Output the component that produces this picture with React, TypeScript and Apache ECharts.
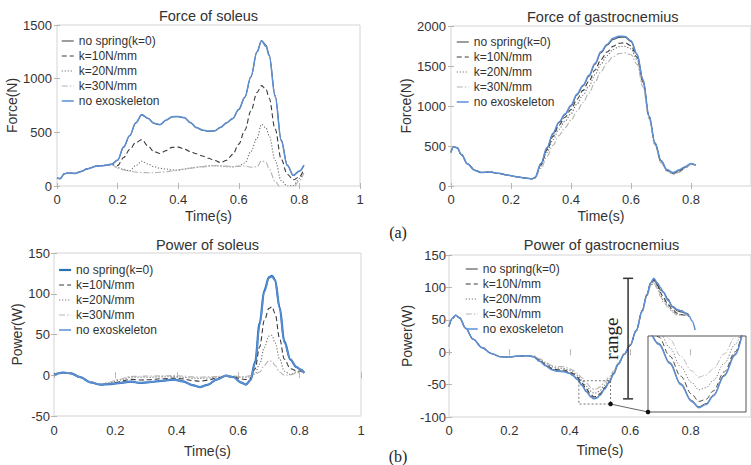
import React, { useEffect, useRef } from "react";
import * as echarts from "echarts";

// ---------- series names ----------
const NAMES = ["no spring(k=0)", "k=10N/mm", "k=20N/mm", "k=30N/mm", "no exoskeleton"];

// ---------- Force of soleus ----------
const tForceSol = [0, 0.01, 0.025, 0.04, 0.06, 0.08, 0.1, 0.13, 0.16, 0.18, 0.2, 0.22, 0.24, 0.26, 0.28, 0.3, 0.32, 0.34, 0.36, 0.38, 0.4, 0.42, 0.44, 0.46, 0.48, 0.5, 0.52, 0.54, 0.56, 0.58, 0.6, 0.62, 0.64, 0.66, 0.675, 0.69, 0.7, 0.72, 0.74, 0.76, 0.78, 0.8, 0.815];
const forceSolK0 = [74, 70, 117, 121, 118, 136, 161, 184, 193, 200, 242, 362, 468, 588, 662, 630, 583, 570, 612, 643, 646, 636, 590, 543, 520, 510, 514, 546, 588, 628, 712, 826, 1015, 1248, 1356, 1312, 1225, 845, 430, 195, 98, 138, 193];
const forceSolK10 = [72, 68, 115, 122, 117, 135, 160, 185, 192, 200, 190, 265, 340, 405, 432, 375, 320, 303, 330, 360, 362, 345, 320, 300, 280, 258, 238, 218, 240, 295, 390, 520, 700, 870, 935, 900, 820, 530, 250, 110, 58, 85, 160];
const forceSolK20 = [72, 68, 115, 122, 117, 135, 160, 185, 192, 200, 172, 155, 140, 190, 230, 205, 180, 165, 158, 150, 148, 158, 168, 175, 182, 188, 190, 186, 180, 178, 185, 215, 320, 445, 575, 540, 470, 240, 50, 0, 5, 70, 135];
const forceSolK30 = [72, 68, 115, 122, 117, 135, 160, 185, 192, 200, 165, 150, 140, 130, 125, 124, 124, 128, 133, 140, 150, 158, 165, 172, 178, 183, 188, 188, 185, 182, 183, 188, 175, 180, 235, 220, 160, 40, -20, -40, -10, 50, 120];
const forceSolNoExo = [72, 68, 115, 122, 117, 135, 160, 185, 192, 205, 240, 366, 470, 590, 665, 632, 585, 572, 615, 645, 648, 638, 592, 545, 522, 512, 515, 548, 590, 630, 715, 830, 1020, 1250, 1350, 1300, 1215, 830, 420, 190, 100, 140, 195];

// ---------- Force of gastrocnemius ----------
const tForceGas = [0, 0.008, 0.02, 0.035, 0.055, 0.08, 0.1, 0.13, 0.16, 0.19, 0.22, 0.25, 0.27, 0.28, 0.3, 0.32, 0.34, 0.36, 0.38, 0.4, 0.42, 0.44, 0.46, 0.48, 0.5, 0.52, 0.54, 0.56, 0.58, 0.6, 0.62, 0.64, 0.66, 0.68, 0.7, 0.72, 0.74, 0.76, 0.78, 0.8, 0.815];
const forceGasK0 = [425, 488, 478, 392, 278, 197, 170, 173, 157, 134, 114, 97, 89, 105, 275, 470, 650, 792, 890, 1000, 1138, 1250, 1372, 1522, 1665, 1760, 1832, 1858, 1860, 1808, 1645, 1325, 875, 535, 315, 200, 160, 190, 235, 278, 262];
const forceGasK10 = [420, 490, 480, 390, 275, 195, 168, 175, 158, 135, 115, 98, 90, 105, 265, 450, 620, 760, 860, 955, 1085, 1195, 1310, 1450, 1580, 1675, 1745, 1785, 1790, 1755, 1610, 1300, 870, 530, 310, 195, 155, 180, 230, 275, 262];
const forceGasK20 = [420, 490, 480, 390, 275, 195, 168, 175, 158, 135, 115, 98, 90, 100, 250, 420, 580, 710, 810, 905, 1025, 1135, 1250, 1390, 1525, 1630, 1705, 1742, 1745, 1715, 1580, 1280, 860, 520, 300, 190, 150, 175, 225, 272, 262];
const forceGasK30 = [420, 490, 480, 390, 275, 195, 168, 175, 158, 135, 115, 98, 90, 95, 220, 370, 510, 630, 730, 820, 935, 1045, 1160, 1300, 1430, 1540, 1615, 1655, 1665, 1640, 1520, 1240, 840, 505, 290, 185, 150, 170, 220, 270, 262];
const forceGasNoExo = [420, 490, 480, 390, 275, 195, 168, 175, 158, 135, 115, 98, 90, 110, 283, 480, 660, 800, 900, 1010, 1150, 1260, 1385, 1535, 1680, 1770, 1846, 1872, 1870, 1815, 1650, 1330, 880, 540, 320, 205, 168, 200, 240, 280, 262];

// ---------- Power of soleus ----------
const tPowSol = [0, 0.03, 0.055, 0.085, 0.12, 0.15, 0.18, 0.21, 0.25, 0.28, 0.31, 0.35, 0.39, 0.42, 0.45, 0.475, 0.5, 0.53, 0.56, 0.585, 0.61, 0.625, 0.64, 0.655, 0.67, 0.685, 0.7, 0.71, 0.72, 0.735, 0.75, 0.77, 0.79, 0.805, 0.815];
const powSolK0 = [0.8, 3.3, 2.3, -2.4, -8.8, -11.4, -10.8, -9.6, -7.8, -9.3, -8.6, -6.8, -5.3, -7.4, -12, -14.6, -11.8, -5.3, -0.5, -2.4, -9, -11.4, -6, 16, 64, 104, 120, 122, 117, 83, 42, 19, 10, 6.5, 2.8];
const powSolK10 = [0.8, 3.3, 2.3, -2.4, -8.8, -11.4, -10.6, -8.2, -5, -5.8, -5.5, -4.3, -3.5, -4.5, -6.5, -7.3, -6, -3.5, -1.5, -2, -4.5, -5.3, -3.5, 8, 35, 67, 82, 84, 76, 45, 20, 8, 5.5, 5, 2.8];
const powSolK20 = [0.8, 3.3, 2.3, -2.4, -8.8, -11.2, -9.5, -6, -2.5, -2.5, -2.5, -2, -1.6, -2.5, -3.5, -3.8, -3.3, -2.3, -1.2, -1.3, -2.3, -2.5, -1.8, 2, 14, 34, 48, 49, 40, 20, 5, 1, 4, 5, 2.8];
const powSolK30 = [0.8, 3.3, 2.3, -2.4, -8.8, -11, -8.5, -5, -1.5, -1.2, -1, -0.8, -0.4, -1, -2, -2.4, -2, -1.5, -0.8, -1, -1.5, -1.5, -0.5, 1, 4, 12, 18, 17, 12, 4, 0, 0.5, 2.5, 4, 2.8];
const powSolNoExo = [0.8, 3.3, 2.3, -2.4, -8.8, -11.4, -10.8, -9.6, -7.8, -9.3, -8.6, -6.8, -5.3, -7.4, -12, -14.6, -11.8, -5.3, -0.5, -2.4, -9, -11.4, -6, 15, 62, 102, 119, 121, 116, 82, 40, 20, 10, 6.5, 2.8];

// ---------- Power of gastrocnemius ----------
const tPowGas = [0, 0.011, 0.022, 0.035, 0.055, 0.08, 0.11, 0.14, 0.17, 0.2, 0.23, 0.26, 0.28, 0.3, 0.32, 0.34, 0.36, 0.38, 0.4, 0.41, 0.425, 0.44, 0.455, 0.47, 0.48, 0.49, 0.5, 0.515, 0.53, 0.545, 0.56, 0.58, 0.6, 0.62, 0.64, 0.655, 0.668, 0.678, 0.69, 0.7, 0.71, 0.725, 0.74, 0.755, 0.77, 0.785, 0.795, 0.805, 0.815];
const powGasK0 = [40, 52, 57, 53, 37, 20, 7, -2, -7, -7.5, -6, -5.5, -7, -13.5, -20.5, -26.5, -29, -29.5, -32.5, -35.5, -41.5, -50.5, -60.5, -68.5, -71.5, -70, -66, -56.5, -46.5, -33.5, -19, -3.5, 10.5, 33, 65, 89, 107, 113, 105, 96, 93, 82, 70, 64, 62, 60, 58, null, null];
const powGasK10 = [40, 52, 57, 53, 37, 20, 7, -2, -7, -7.5, -6, -5.5, -6.5, -12.5, -19, -25, -27, -27.5, -30.5, -33, -38.5, -47.5, -57, -65.5, -69, -68, -64, -55, -45.5, -33, -18.5, -3, 10.5, 33, 64, 88, 106, 111, 103, 92, 84, 74, 66, 60, 58, 57, 55, null, null];
const powGasK20 = [40, 52, 57, 53, 37, 20, 7, -2, -7, -7.5, -6, -5.5, -6, -11, -17, -22.5, -24.5, -25, -28, -30.5, -35.5, -43.5, -52.5, -60, -63.5, -62.5, -59, -51, -42, -31, -17.5, -2.5, 11, 33, 63, 87, 104, 109, 100, 88, 80, 72, 64, 59, 58, 58, 55, null, null];
const powGasK30 = [40, 52, 57, 53, 37, 20, 7, -2, -7, -7.5, -6, -5.5, -5.5, -10, -15.5, -20.5, -22, -22.5, -25.5, -28, -32.5, -39.5, -47.5, -54.5, -57.5, -56.5, -53.5, -46.5, -38.5, -29, -16.5, -2, 11.5, 33, 62, 86, 102, 107, 98, 86, 77, 70, 62, 57, 57, 58, 54, null, null];
const powGasNoExo = [40, 52, 57, 53, 37, 20, 7, -2, -7, -7.5, -6, -5.5, -7, -14, -21, -27, -29.5, -30, -33, -36, -42, -51, -61, -69, -72, -70.5, -66.5, -57, -47, -34, -19, -3.5, 11, 34, 64, 88, 107, 114, 107, 100, 92, 80, 71, 66, 64, 60, 56, 48, 34];

// magnified window of the gastrocnemius power trough, and where the range bar stands
const zoomWindowT = [0.43, 0.535];
const zoomWindowP = [-80, -44];
const insetT = [0.41, 0.545];
const insetP = [-74, -38];
const rangeBarT = 0.593;

// ---------- layout ----------
const FONT = "'Liberation Sans', Arial, Helvetica, sans-serif";
const SERIF = "'Liberation Serif', 'Times New Roman', serif";
const TEXT = "#333";
const BOX = "#d4d4d4";

const GRIDS = [
  { left: 57, top: 25, width: 303, height: 161 },
  { left: 451, top: 26, width: 303.5, height: 160 },
  { left: 54, top: 253, width: 307, height: 163 },
  { left: 449, top: 255, width: 305, height: 162 },
];
const INSET = { left: 648, top: 336, width: 98, height: 76 };

const PANELS = [
  { title: "Force of soleus", yName: "Force(N)", yMin: 0, yMax: 1500, t: tForceSol, v: [forceSolK0, forceSolK10, forceSolK20, forceSolK30, forceSolNoExo], xMargin: 7, xNameGap: 23, yMargin: 5, yNameGap: 30, showMax: true, titleY: 16, legend: { left: 61, top: 35 } },
  { title: "Force of gastrocnemius", yName: "Force(N)", yMin: 0, yMax: 2000, t: tForceGas, v: [forceGasK0, forceGasK10, forceGasK20, forceGasK30, forceGasNoExo], xMargin: 7, xNameGap: 23, yMargin: 5, yNameGap: 32, showMax: false, titleY: 17, legend: { left: 456, top: 36 } },
  { title: "Power of soleus", yName: "Power(W)", yMin: -50, yMax: 150, t: tPowSol, v: [powSolK0, powSolK10, powSolK20, powSolK30, powSolNoExo], xMargin: 8, xNameGap: 28, yMargin: 4, yNameGap: 22, showMax: true, titleY: 245, legend: { left: 58, top: 264 } },
  { title: "Power of gastrocnemius", yName: "Power(W)", yMin: -100, yMax: 150, t: tPowGas, v: [powGasK0, powGasK10, powGasK20, powGasK30, powGasNoExo], xMargin: 7, xNameGap: 26, yMargin: 3, yNameGap: 35, showMax: false, titleY: 245, legend: { left: 465, top: 263 } },
];

const LINE_STYLES: any[] = [
  { color: "#4d4d4d", width: 1.1, type: "solid" },
  { color: "#3a3a3a", width: 1.1, type: [5, 3] },
  { color: "#707070", width: 1.1, type: [1.2, 1.8] },
  { color: "#b3b3b3", width: 1.1, type: [6, 2, 1.5, 2] },
  { color: "#5b8fd6", width: 1.5, type: "solid" },
];
// in the soleus power panel the k=0 curve is drawn as a heavier dark-blue line
const SOLEUS_POWER_K0 = { color: "#2a6fb6", width: 2.2, type: "solid" };

const styleFor = (panel: number, k: number) => (panel === 2 && k === 0 ? SOLEUS_POWER_K0 : LINE_STYLES[k]);
const pairs = (t: number[], v: (number | null)[]) => t.map((x, i) => [x, v[i]]);
const plain = (v: number) => String(v);

function buildOption() {
  const xAxis: any[] = [];
  const yAxis: any[] = [];
  const series: any[] = [];
  const title: any[] = [];
  const legend: any[] = [];

  PANELS.forEach((p, i) => {
    xAxis.push({
      type: "value", gridIndex: i, min: 0, max: 1, interval: 0.2, position: "bottom",
      axisLine: { show: false },
      axisTick: { inside: true, length: 3, lineStyle: { color: "#b5b5b5" } },
      splitLine: { show: false },
      axisLabel: { margin: p.xMargin, fontSize: 13, color: TEXT, fontFamily: FONT, showMaxLabel: p.showMax, formatter: plain },
      name: "Time(s)", nameLocation: "middle", nameGap: p.xNameGap,
      nameTextStyle: { fontSize: 14, color: TEXT, fontFamily: FONT },
    });
    yAxis.push({
      type: "value", gridIndex: i, min: p.yMin, max: p.yMax, interval: p.yMin === 0 ? 500 : 50, position: "left",
      axisLine: { show: false },
      axisTick: { inside: true, length: 3, lineStyle: { color: "#b5b5b5" } },
      splitLine: { show: false },
      axisLabel: { margin: p.yMargin, fontSize: 13, color: TEXT, fontFamily: FONT, formatter: plain },
      name: p.yName, nameLocation: "middle", nameGap: p.yNameGap,
      nameTextStyle: { fontSize: 14, color: TEXT, fontFamily: FONT },
    });
    title.push({
      text: p.title, left: GRIDS[i].left + GRIDS[i].width / 2, top: p.titleY - 8, textAlign: "center", padding: 0,
      textStyle: { fontSize: 14.5, fontWeight: "normal", color: TEXT, fontFamily: FONT },
    });
    legend.push({
      orient: "vertical", left: p.legend.left, top: p.legend.top, padding: 0, itemGap: 3,
      itemWidth: 12, itemHeight: 8, selectedMode: false,
      textStyle: { fontSize: 12, color: TEXT, fontFamily: FONT },
      data: NAMES.map((n, k) => ({ name: n, lineStyle: styleFor(i, k), itemStyle: { opacity: 0 } })),
    });
    NAMES.forEach((n, k) => {
      series.push({
        name: n, type: "line", xAxisIndex: i, yAxisIndex: i,
        data: pairs(p.t, p.v[k]), showSymbol: false, symbol: "none",
        smooth: 0.35, smoothMonotone: "x", clip: true,
        lineStyle: styleFor(i, k), z: 2 + k,
      });
    });
  });

  // mirrored ticks on the top and right edges of each box
  PANELS.forEach((p, i) => {
    xAxis.push({
      type: "value", gridIndex: i, min: 0, max: 1, interval: 0.2, position: "top",
      axisLine: { show: false }, axisLabel: { show: false }, splitLine: { show: false },
      axisTick: { inside: true, length: 3, lineStyle: { color: "#b5b5b5" } },
    });
    yAxis.push({
      type: "value", gridIndex: i, min: p.yMin, max: p.yMax, interval: p.yMin === 0 ? 500 : 50, position: "right",
      axisLine: { show: false }, axisLabel: { show: false }, splitLine: { show: false },
      axisTick: { inside: true, length: 3, lineStyle: { color: "#b5b5b5" } },
    });
  });

  // magnified trough of the gastrocnemius power
  xAxis.push({ type: "value", gridIndex: 4, min: insetT[0], max: insetT[1], show: false });
  yAxis.push({ type: "value", gridIndex: 4, min: insetP[0], max: insetP[1], show: false });
  NAMES.forEach((n, k) => {
    series.push({
      name: n, type: "line", xAxisIndex: 8, yAxisIndex: 8,
      data: pairs(tPowGas, PANELS[3].v[k]), showSymbol: false, symbol: "none",
      smooth: 0.35, smoothMonotone: "x", clip: true,
      lineStyle: { ...LINE_STYLES[k], width: k === 4 ? 1.4 : 0.9 }, z: 12 + k,
    });
  });

  // window box, connector, and the peak-to-trough range bar
  const lo = Math.min(...(powGasNoExo as number[]));
  const hi = Math.max(...(powGasNoExo as number[]));
  series.push({
    type: "custom", xAxisIndex: 3, yAxisIndex: 3, z: 20, silent: true,
    data: [[rangeBarT, lo, hi]],
    renderItem: (params: any, api: any) => {
      const t = api.value(0);
      const top = api.coord([t, api.value(2)]);
      const bot = api.coord([t, api.value(1)]);
      const w1 = api.coord([zoomWindowT[0], zoomWindowP[1]]);
      const w2 = api.coord([zoomWindowT[1], zoomWindowP[0]]);
      const corner = [INSET.left, INSET.top + INSET.height];
      const bar = { stroke: "#333", lineWidth: 1.5 };
      return {
        type: "group",
        children: [
          { type: "rect", shape: { x: w1[0], y: w1[1], width: w2[0] - w1[0], height: w2[1] - w1[1] }, style: { fill: "none", stroke: "#555", lineWidth: 0.8, lineDash: [2, 2] } },
          { type: "line", shape: { x1: w2[0], y1: w2[1], x2: corner[0], y2: corner[1] }, style: { stroke: "#555", lineWidth: 0.9 } },
          { type: "circle", shape: { cx: w2[0], cy: w2[1], r: 2.3 }, style: { fill: "#111" } },
          { type: "circle", shape: { cx: corner[0], cy: corner[1], r: 2.3 }, style: { fill: "#111" } },
          { type: "line", shape: { x1: top[0], y1: top[1], x2: bot[0], y2: bot[1] }, style: bar },
          { type: "line", shape: { x1: top[0] - 5, y1: top[1], x2: top[0] + 5, y2: top[1] }, style: bar },
          { type: "line", shape: { x1: bot[0] - 5, y1: bot[1], x2: bot[0] + 5, y2: bot[1] }, style: bar },
          {
            type: "text", x: top[0] - 17, y: (top[1] + bot[1]) / 2, rotation: Math.PI / 2,
            style: { text: "range", font: `19px ${SERIF}`, fill: "#222", align: "center", verticalAlign: "middle" },
          },
        ],
      };
    },
  });

  const grid: any[] = GRIDS.map((g) => ({ ...g, show: true, borderColor: BOX, borderWidth: 1, backgroundColor: "transparent" }));
  grid.push({ ...INSET, show: true, borderColor: "#555", borderWidth: 1, backgroundColor: "#fff" });

  return {
    animation: false,
    backgroundColor: "#fff",
    textStyle: { fontFamily: FONT },
    title,
    legend,
    grid,
    xAxis,
    yAxis,
    series,
    graphic: [
      { type: "text", x: 398, y: 232, style: { text: "(a)", font: `16px ${SERIF}`, fill: "#222", align: "center", verticalAlign: "middle" } },
      { type: "text", x: 398, y: 456, style: { text: "(b)", font: `16px ${SERIF}`, fill: "#222", align: "center", verticalAlign: "middle" } },
    ],
  };
}

export default function App() {
  const ref = useRef<HTMLDivElement>(null);
  useEffect(() => {
    if (!ref.current) return;
    const chart = echarts.init(ref.current, undefined, { renderer: "svg" });
    chart.setOption(buildOption() as any);
    return () => chart.dispose();
  }, []);
  return <div ref={ref} style={{ position: "absolute", left: 0, top: 0, width: 751, height: 465 }} />;
}
